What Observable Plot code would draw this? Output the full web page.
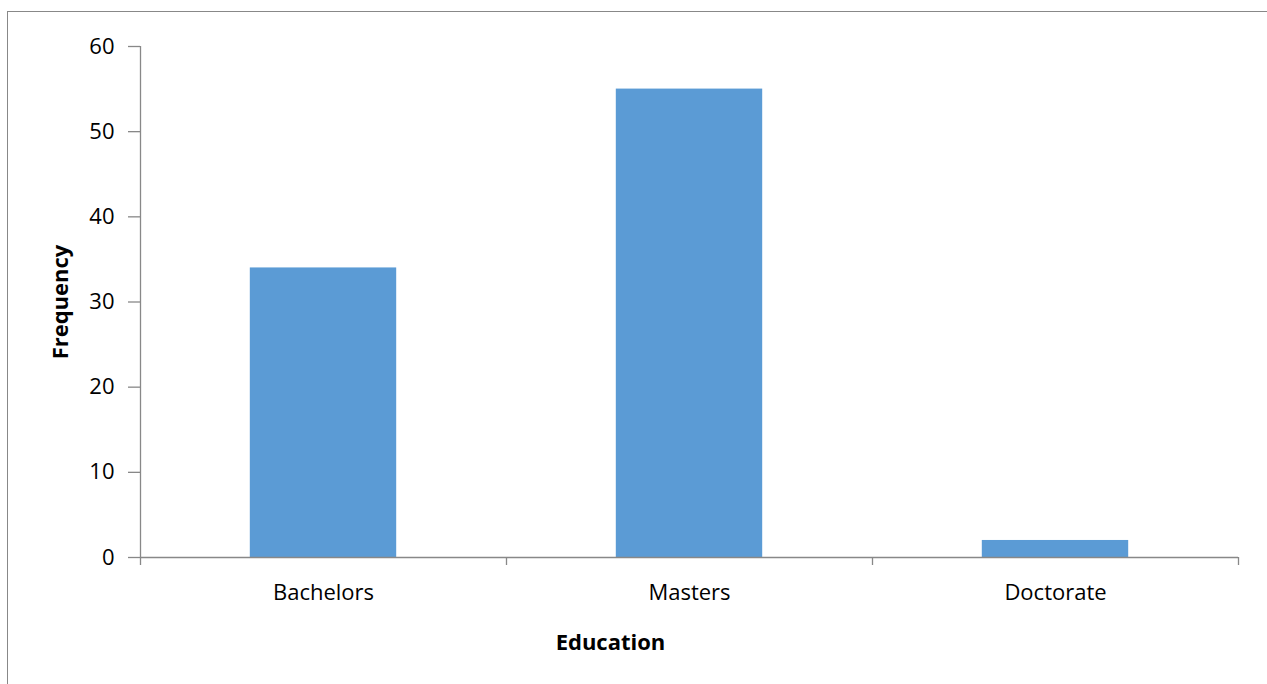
<!DOCTYPE html>
<html>
<head>
<meta charset="utf-8">
<script src="https://cdn.jsdelivr.net/npm/d3@7"></script>
<script src="https://cdn.jsdelivr.net/npm/@observablehq/plot@0.6"></script>
<style>
  html, body { margin: 0; padding: 0; background: #fff; }
  #wrap { position: relative; width: 1267px; height: 684px; overflow: hidden; }
  #border { position: absolute; left: 7px; top: 11px; width: 1300px; height: 700px;
            border-left: 1.5px solid #888; border-top: 1.5px solid #888; box-sizing: border-box; }
  #chart { position: absolute; left: 0; top: 0; }
</style>
</head>
<body>
<div id="wrap"><div id="border"></div><div id="chart"></div></div>
<script>
const categories = ["Bachelors", "Masters", "Doctorate"];
const frequencies = [34, 55, 2];
const yTicks = [0, 10, 20, 30, 40, 50, 60];
const xLabel = "Education";
const yLabel = "Frequency";

const data = categories.map((c, i) => ({cat: c, idx: i, value: frequencies[i]}));
const boundaries = d3.range(categories.length + 1);

const font = "'Open Sans', sans-serif";
const chart = Plot.plot({
  width: 1267,
  height: 684,
  marginLeft: 140,
  marginRight: 29,
  marginTop: 46,
  marginBottom: 127,
  style: {fontFamily: font, fontSize: "22px", color: "#000", background: "transparent"},
  x: {type: "linear", domain: [0, categories.length], axis: null},
  y: {type: "linear", domain: [0, 60], axis: null},
  marks: [
    Plot.rectY(data, {x1: d => d.idx + 0.3, x2: d => d.idx + 0.7, y1: 0, y2: "value", fill: "#5B9BD5"}),
    Plot.ruleY([0], {stroke: "#888", strokeWidth: 1.3}),
    Plot.ruleX([0], {y1: 0, y2: 60, stroke: "#888", strokeWidth: 1.3}),
    Plot.axisY({ticks: yTicks, tickSize: 12, tickPadding: 14, stroke: "#888", strokeWidth: 1.3,
      label: null, fontSize: 22, fill: "#000"}),
    Plot.axisX({ticks: boundaries, tickSize: 8, tickFormat: () => "", stroke: "#888", strokeWidth: 1.3, label: null}),
    Plot.text(data, {x: d => d.idx + 0.5, y: 0, text: "cat", dy: 35, fontSize: 22, fill: "#000"}),
    Plot.text([xLabel], {frameAnchor: "bottom", dy: 92, dx: -79, text: d => d, fontWeight: "bold", fontSize: 22, fill: "#000"}),
    Plot.text([yLabel], {frameAnchor: "left", textAnchor: "middle", dx: -80, rotate: -90, text: d => d, fontWeight: "bold", fontSize: 22, fill: "#000"})
  ]
});
document.getElementById("chart").appendChild(chart);
</script>
</body>
</html>
